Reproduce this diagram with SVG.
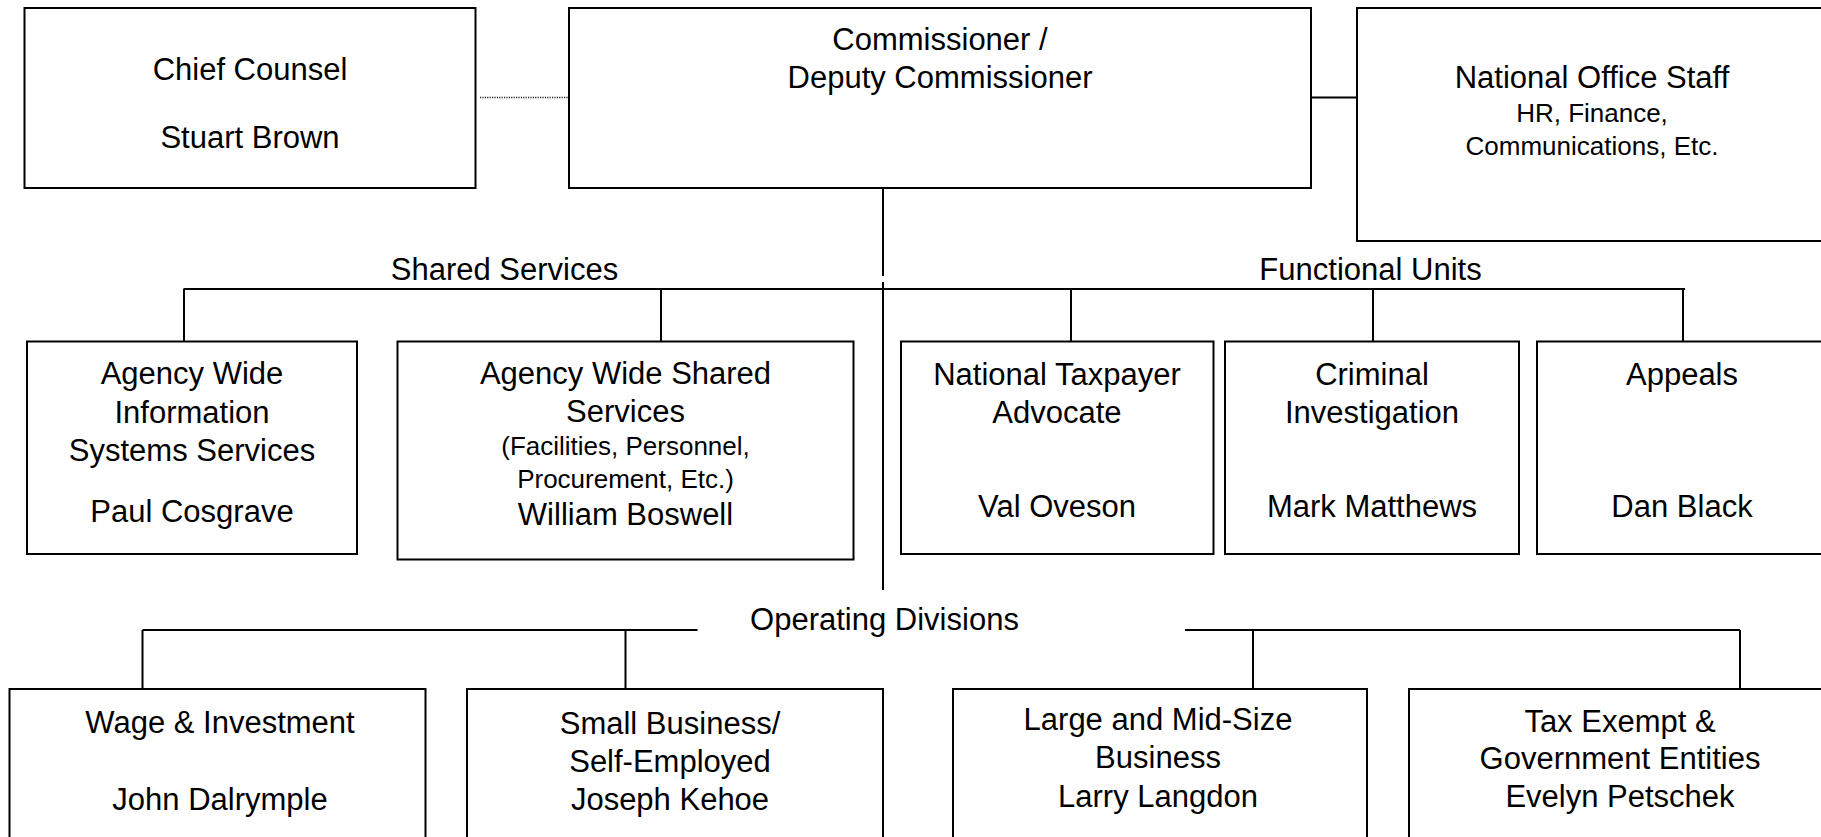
<svg xmlns="http://www.w3.org/2000/svg" width="1821" height="837" viewBox="0 0 1821 837">
<style>
.box{fill:#fff;stroke:#000;stroke-width:2}
.t{font-family:"Liberation Sans",Arial,sans-serif;font-size:31px;fill:#000;text-anchor:middle}
.s{font-size:26px}
.ln{fill:none;stroke:#000;stroke-width:2}
.dot{fill:none;stroke:#222;stroke-width:1.5;stroke-dasharray:1.2 1.2}
</style>
<rect width="1821" height="837" fill="#fff"/>
<g id="connectors">
<path class="dot" d="M480 97.5H569"/>
<path class="ln" d="M1311 97.5H1366"/>
<path class="ln" d="M883 188V276M883 282V590"/>
<path class="ln" d="M183.5 289H1685"/>
<path class="ln" d="M184 289V341.5M661 289V341.5M1071 289V341.5M1373 289V341.5M1683 289V341.5"/>
<path class="ln" d="M142.5 630H697.5M142.5 630V689M625.5 630V689"/>
<path class="ln" d="M1185 630H1740M1253 630V689M1740 630V689"/>
</g>
<g id="labels">
<text class="t" x="504.5" y="280">Shared Services</text>
<text class="t" x="1370.5" y="280">Functional Units</text>
<text class="t" x="884.5" y="630">Operating Divisions</text>
</g>
<g id="chief-counsel">
<rect class="box" x="24.5" y="8" width="451" height="180"/>
<text class="t" x="250" y="80">Chief Counsel</text>
<text class="t" x="250" y="148">Stuart Brown</text>
</g>
<g id="commissioner">
<rect class="box" x="569" y="8" width="742" height="180"/>
<text class="t" x="940" y="50">Commissioner /</text>
<text class="t" x="940" y="88">Deputy Commissioner</text>
</g>
<g id="national-office-staff">
<rect class="box" x="1357" y="8" width="475" height="233"/>
<text class="t" x="1592" y="88">National Office Staff</text>
<text class="t s" x="1592" y="122">HR, Finance,</text>
<text class="t s" x="1592" y="155">Communications, Etc.</text>
</g>
<g id="awiss">
<rect class="box" x="27" y="341.5" width="330" height="212.5"/>
<text class="t" x="192" y="384">Agency Wide</text>
<text class="t" x="192" y="423">Information</text>
<text class="t" x="192" y="461">Systems Services</text>
<text class="t" x="192" y="522">Paul Cosgrave</text>
</g>
<g id="awss">
<rect class="box" x="397.5" y="341.5" width="456" height="218"/>
<text class="t" x="625.5" y="384">Agency Wide Shared</text>
<text class="t" x="625.5" y="422">Services</text>
<text class="t s" x="625.5" y="455">(Facilities, Personnel,</text>
<text class="t s" x="625.5" y="488">Procurement, Etc.)</text>
<text class="t" x="625.5" y="525">William Boswell</text>
</g>
<g id="nta">
<rect class="box" x="901" y="341.5" width="312.5" height="212.5"/>
<text class="t" x="1057" y="385">National Taxpayer</text>
<text class="t" x="1057" y="423">Advocate</text>
<text class="t" x="1057" y="517">Val Oveson</text>
</g>
<g id="criminal-investigation">
<rect class="box" x="1225" y="341.5" width="294" height="212.5"/>
<text class="t" x="1372" y="385">Criminal</text>
<text class="t" x="1372" y="423">Investigation</text>
<text class="t" x="1372" y="517">Mark Matthews</text>
</g>
<g id="appeals">
<rect class="box" x="1537" y="341.5" width="290" height="212.5"/>
<text class="t" x="1682" y="385">Appeals</text>
<text class="t" x="1682" y="517">Dan Black</text>
</g>
<g id="wage-investment">
<rect class="box" x="9.5" y="689" width="416" height="170"/>
<text class="t" x="220" y="733">Wage &amp; Investment</text>
<text class="t" x="220" y="810">John Dalrymple</text>
</g>
<g id="sbse">
<rect class="box" x="467" y="689" width="416" height="170"/>
<text class="t" x="670" y="734">Small Business/</text>
<text class="t" x="670" y="772">Self-Employed</text>
<text class="t" x="670" y="810">Joseph Kehoe</text>
</g>
<g id="lmsb">
<rect class="box" x="953" y="689" width="414" height="170"/>
<text class="t" x="1158" y="730">Large and Mid-Size</text>
<text class="t" x="1158" y="768">Business</text>
<text class="t" x="1158" y="807">Larry Langdon</text>
</g>
<g id="tege">
<rect class="box" x="1409" y="689" width="422" height="170"/>
<text class="t" x="1620" y="732">Tax Exempt &amp;</text>
<text class="t" x="1620" y="769">Government Entities</text>
<text class="t" x="1620" y="807">Evelyn Petschek</text>
</g>
</svg>
